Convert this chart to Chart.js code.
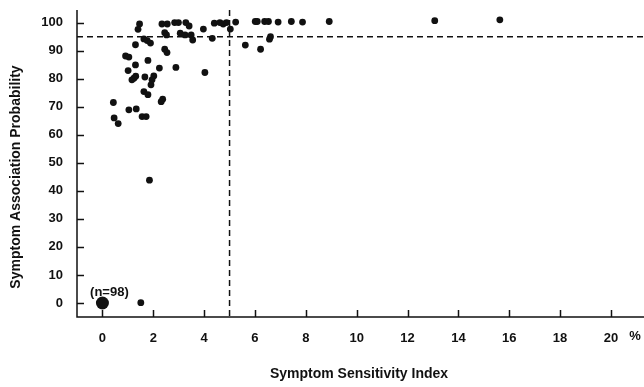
<!DOCTYPE html>
<html lang="en">
<head>
    <meta charset="UTF-8">
    <title>Symptom Sensitivity Index vs Symptom Association Probability</title>
    <script src="https://cdn.jsdelivr.net/npm/chart.js"></script>
    <style>
        html, body {
            margin: 0;
            padding: 0;
            background: #fff;
        }
        #wrap {
            width: 644px;
            height: 387px;
        }
    </style>
</head>
<body>
    <div id="wrap"><canvas id="plot" width="644" height="387"></canvas></div>

    <script>
        // Symptom Sensitivity Index (%) for each patient
        const sensitivity = [
            1.46, 1.40, 1.30, 1.63, 1.76, 1.89, 0.91, 1.04, 1.30, 1.79,
            1.01, 1.24, 1.31, 1.16, 1.67, 2.02, 1.95, 1.91, 2.24, 1.63,
            1.79, 2.37, 2.31, 0.43, 0.46, 0.62, 1.04, 1.33, 1.56, 1.72,
            2.34, 2.55, 2.84, 2.99, 3.28, 3.41, 2.45, 2.52, 3.06, 3.25,
            3.49, 3.55, 2.45, 2.54, 2.89, 3.97, 4.03, 4.32, 4.40, 4.62,
            4.75, 4.88, 5.03, 5.24, 5.62, 6.01, 6.09, 6.38, 6.53, 6.22,
            6.61, 6.57, 6.91, 7.43, 7.87, 8.92, 13.07, 15.63, 1.85, 1.51
        ];
        // Symptom Association Probability for the same patients
        const probability = [
            99.5, 97.6, 92.1, 94.2, 93.6, 92.7, 88.1, 87.7, 84.9, 86.5,
            82.9, 80.2, 80.9, 79.6, 80.6, 81.0, 79.6, 77.8, 83.8, 75.4,
            74.3, 72.7, 71.8, 71.5, 66.0, 64.0, 68.9, 69.2, 66.5, 66.5,
            99.5, 99.5, 100, 100, 100, 98.8, 96.4, 95.6, 96.2, 95.6,
            95.6, 93.8, 90.5, 89.3, 84.0, 97.7, 82.2, 94.4, 99.8, 100,
            99.5, 100, 97.7, 100.2, 92.0, 100.4, 100.4, 100.4, 100.4, 90.5,
            95.0, 94.1, 100.2, 100.4, 100.2, 100.4, 100.7, 101, 43.8, 0.1
        ];

        // pooled point of patients with no association
        const pooledX = [0];
        const pooledY = [0];
        const pooledLabel = '(n=98)';

        // cut-off lines
        const cutoffSensitivity = 5;
        const cutoffProbability = 95;

        const xTickValues = [0, 2, 4, 6, 8, 10, 12, 14, 16, 18, 20];
        const yTickValues = [0, 10, 20, 30, 40, 50, 60, 70, 80, 90, 100];

        const xTitle = 'Symptom Sensitivity Index';
        const yTitle = 'Symptom Association Probability';

        const ink = '#111';
        const fontFamily = '"Liberation Sans", Arial, Helvetica, sans-serif';

        // axes, inward tick marks, dashed cut-offs and the titles
        const framePlugin = {
            id: 'frame',
            beforeDatasetsDraw(chart) {
                const ctx = chart.ctx;
                const area = chart.chartArea;
                const x = chart.scales.x;
                const y = chart.scales.y;

                ctx.save();
                ctx.strokeStyle = ink;
                ctx.lineWidth = 1.5;

                ctx.beginPath();
                ctx.moveTo(area.left, area.top);
                ctx.lineTo(area.left, area.bottom);
                ctx.lineTo(area.right, area.bottom);
                ctx.stroke();

                ctx.beginPath();
                x.ticks.forEach(function(t) {
                    const px = Math.round(x.getPixelForValue(t.value)) + 0.5;
                    ctx.moveTo(px, area.bottom);
                    ctx.lineTo(px, area.bottom - 7);
                });
                y.ticks.forEach(function(t) {
                    const py = Math.round(y.getPixelForValue(t.value)) + 0.5;
                    ctx.moveTo(area.left, py);
                    ctx.lineTo(area.left + 7, py);
                });
                ctx.stroke();

                ctx.setLineDash([6, 4]);
                ctx.beginPath();
                const cx = x.getPixelForValue(cutoffSensitivity);
                ctx.moveTo(cx, area.top);
                ctx.lineTo(cx, area.bottom);
                const cy = y.getPixelForValue(cutoffProbability);
                ctx.moveTo(area.left, cy);
                ctx.lineTo(area.right, cy);
                ctx.stroke();
                ctx.setLineDash([]);

                ctx.fillStyle = ink;
                ctx.font = 'bold 13px ' + fontFamily;
                ctx.textAlign = 'center';
                ctx.textBaseline = 'middle';
                ctx.fillText(pooledLabel,
                    x.getPixelForValue(pooledX[0]) + 7,
                    y.getPixelForValue(pooledY[0]) - 11);
                ctx.fillText('%', x.getPixelForValue(20) + 24, 336);

                ctx.font = 'bold 14px ' + fontFamily;
                ctx.fillText(xTitle, 359, 374);

                ctx.translate(16, 177);
                ctx.rotate(-Math.PI / 2);
                ctx.fillText(yTitle, 0, 0);
                ctx.restore();
            }
        };

        new Chart(document.getElementById('plot').getContext('2d'), {
            type: 'scatter',
            data: {
                datasets: [
                    {
                        label: 'Patients',
                        data: sensitivity.map((v, i) => ({ x: v, y: probability[i] })),
                        backgroundColor: ink,
                        borderWidth: 0,
                        pointRadius: 3.4
                    },
                    {
                        label: pooledLabel,
                        data: pooledX.map((v, i) => ({ x: v, y: pooledY[i] })),
                        backgroundColor: ink,
                        borderWidth: 0,
                        pointRadius: 6.5
                    }
                ]
            },
            options: {
                responsive: false,
                animation: false,
                devicePixelRatio: 1,
                layout: {
                    autoPadding: false,
                    padding: { top: 10, right: 0, left: 0, bottom: 0 }
                },
                plugins: {
                    legend: { display: false },
                    tooltip: { enabled: false }
                },
                scales: {
                    x: {
                        type: 'linear',
                        min: -1,
                        max: 21.3,
                        grid: { display: false, drawTicks: false },
                        border: { display: false },
                        afterBuildTicks: function(scale) {
                            scale.ticks = xTickValues.map(v => ({ value: v }));
                        },
                        afterFit: function(scale) {
                            scale.height = 70;
                            scale.paddingLeft = 0;
                            scale.paddingRight = 0;
                        },
                        ticks: {
                            padding: 14,
                            color: ink,
                            maxRotation: 0,
                            autoSkip: false,
                            font: { family: fontFamily, size: 13, weight: 'bold' }
                        }
                    },
                    y: {
                        type: 'linear',
                        min: -5,
                        max: 104.5,
                        grid: { display: false, drawTicks: false },
                        border: { display: false },
                        afterBuildTicks: function(scale) {
                            scale.ticks = yTickValues.map(v => ({ value: v }));
                        },
                        afterFit: function(scale) {
                            scale.width = 77;
                            scale.paddingTop = 0;
                            scale.paddingBottom = 0;
                        },
                        ticks: {
                            padding: 14,
                            color: ink,
                            autoSkip: false,
                            font: { family: fontFamily, size: 13, weight: 'bold' }
                        }
                    }
                }
            },
            plugins: [framePlugin]
        });
    </script>
</body>
</html>
